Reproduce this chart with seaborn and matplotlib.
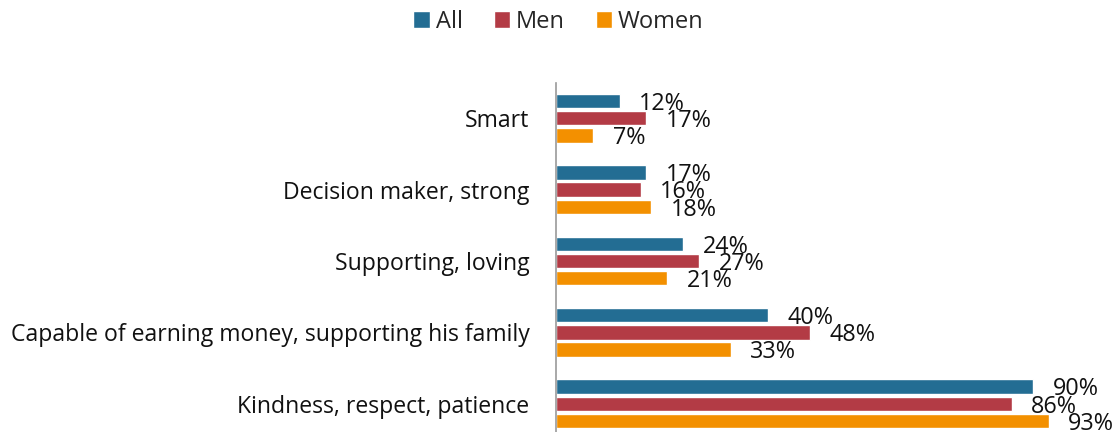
import matplotlib
matplotlib.use("Agg")
import matplotlib.pyplot as plt
import seaborn as sns
import pandas as pd

categories = ["Smart", "Decision maker, strong", "Supporting, loving",
              "Capable of earning money, supporting his family",
              "Kindness, respect, patience"]
series = ["All", "Men", "Women"]
all_vals = [12, 17, 24, 40, 90]
men_vals = [17, 16, 27, 48, 86]
women_vals = [7, 18, 21, 33, 93]
colors = ["#236d93", "#b33b45", "#f39000"]

rows = []
for s, vals in zip(series, [all_vals, men_vals, women_vals]):
    for c, v in zip(categories, vals):
        rows.append({"category": c, "series": s, "value": v})
df = pd.DataFrame(rows)

sns.set_style("white")
plt.rcParams["font.family"] = ["Open Sans", "DejaVu Sans"]

fig = plt.figure(figsize=(11.17, 4.32), dpi=100)
ax = fig.add_axes([556/1117, -7.5/432, (1086-556)/1117, (432-82.5+7.5)/432])

sns.barplot(data=df, y="category", x="value", hue="series", order=categories,
            hue_order=series, palette=colors, orient="h", width=0.72, gap=0.16,
            saturation=1, ax=ax, legend=True)

for cont in ax.containers:
    for bar in cont:
        w = bar.get_width()
        yc = bar.get_y() + bar.get_height() / 2
        ax.annotate(f"{w:.0f}%", xy=(w, yc), xytext=(14, -2),
                    textcoords="offset points", ha="left", va="center",
                    fontsize=16.8, color="#111111")

ax.set_xlim(0, 100)
ax.set_ylim(4.5, -0.5)
ax.set_xlabel("")
ax.set_ylabel("")
ax.set_xticks([])
ax.tick_params(axis="y", length=0, pad=19, labelsize=16.6, labelcolor="#111111")
for side in ["top", "right", "bottom"]:
    ax.spines[side].set_visible(False)
ax.spines["left"].set_color("#9a9a9a")
ax.spines["left"].set_linewidth(1.2)

handles, labels = ax.get_legend_handles_labels()
ax.get_legend().remove()
fig.legend(handles, labels, loc="center", bbox_to_anchor=(0.5, 1 - 22/432), ncol=3,
           frameon=False, fontsize=17, handlelength=0.7, handleheight=0.7,
           handletextpad=0.25, columnspacing=1.3)

fig.savefig("out.png", dpi=100)
